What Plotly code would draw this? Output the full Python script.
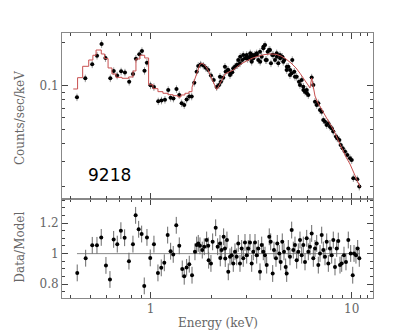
import plotly.graph_objects as go

# spectrum data points (keV, counts/sec/keV)
energy_top = [0.430, 0.473, 0.512, 0.541, 0.570, 0.596, 0.630, 0.655, 0.681, 0.713,
              0.745, 0.782, 0.817, 0.845, 0.878, 0.905, 0.932, 0.958, 0.998, 1.038,
              1.091, 1.132, 1.178, 1.223, 1.257, 1.298, 1.344, 1.388, 1.426, 1.469,
              1.510, 1.556, 1.600, 1.648, 1.694, 1.725, 1.773, 1.827, 1.878, 1.934,
              1.995, 2.058, 2.130, 2.187, 2.212, 2.238, 2.297, 2.342, 2.361, 2.416,
              2.433, 2.481, 2.500, 2.547, 2.576, 2.627, 2.678, 2.709, 2.728, 2.782,
              2.790, 2.856, 2.888, 2.946, 3.004, 3.010, 3.038, 3.119, 3.125, 3.130,
              3.181, 3.203, 3.240, 3.277, 3.285, 3.369, 3.375, 3.431, 3.499, 3.505,
              3.567, 3.633, 3.640, 3.705, 3.734, 3.777, 3.821, 3.882, 3.922, 3.967,
              4.027, 4.074, 4.154, 4.236, 4.245, 4.314, 4.399, 4.410, 4.516, 4.568,
              4.621, 4.750, 4.760, 4.838, 4.932, 4.940, 5.029, 5.064, 5.181, 5.223,
              5.325, 5.468, 5.532, 5.641, 5.745, 5.755, 5.859, 5.974, 5.985, 6.085,
              6.324, 6.442, 6.569, 6.698, 6.822, 6.956, 7.093, 7.225, 7.367, 7.512,
              7.652, 7.798, 7.953, 8.100, 8.354, 8.479, 8.676, 8.817, 9.022, 9.262,
              9.509, 9.806, 10.00, 10.19, 10.66, 10.91]
counts_top = [0.0835, 0.1131, 0.1415, 0.1624, 0.1957, 0.1565, 0.1131, 0.1271, 0.1182, 0.1264,
              0.1241, 0.1071, 0.1212, 0.1548, 0.1660, 0.1750, 0.1275, 0.1451, 0.1011, 0.0984,
              0.0783, 0.0793, 0.0803, 0.0938, 0.0829, 0.0819, 0.0953, 0.0866, 0.0759, 0.0738,
              0.0806, 0.0846, 0.0846, 0.1054, 0.1257, 0.1377, 0.1410, 0.1385, 0.1341, 0.1292,
              0.1183, 0.1101, 0.0984, 0.1016, 0.1160, 0.1071, 0.1142, 0.1361, 0.1257, 0.1292,
              0.1292, 0.1192, 0.1225, 0.1245, 0.1327, 0.1361, 0.1399, 0.1399, 0.1516, 0.1437,
              0.1598, 0.1516, 0.1642, 0.1557, 0.1642, 0.1598, 0.1540, 0.1598, 0.1557, 0.1687,
              0.1475, 0.1642, 0.1557, 0.1624, 0.1642, 0.1687, 0.1642, 0.1516, 0.1730, 0.1475,
              0.1598, 0.1827, 0.1873, 0.1926, 0.1516, 0.1516, 0.1730, 0.1778, 0.1778, 0.1437,
              0.1642, 0.1642, 0.1516, 0.1687, 0.1598, 0.1437, 0.1642, 0.1557, 0.1598, 0.1475,
              0.1516, 0.1292, 0.1361, 0.1361, 0.1192, 0.1292, 0.1225, 0.1516, 0.1257, 0.1160,
              0.1160, 0.1071, 0.1016, 0.1101, 0.0989, 0.0938, 0.0913, 0.0938, 0.0890, 0.0866,
              0.1146, 0.1016, 0.0778, 0.0738, 0.0759, 0.0681, 0.0663, 0.0580, 0.0565, 0.0536,
              0.0551, 0.0521, 0.0508, 0.0482, 0.0445, 0.0433, 0.0422, 0.0389, 0.0369, 0.0350,
              0.0332, 0.0315, 0.0306, 0.0229, 0.0225, 0.0200]

# folded model: stepped part at low energy, smooth part above ~1.6 keV
model_low_e = [0.412, 0.433, 0.459, 0.492, 0.516, 0.535, 0.568, 0.590, 0.614, 0.642,
               0.672, 0.720, 0.777, 0.817, 0.845, 0.885, 0.934, 0.977, 1.027, 1.087,
               1.151, 1.219, 1.291, 1.367, 1.415, 1.481, 1.550, 1.606]
model_low_v = [0.0953, 0.1142, 0.1370, 0.1516, 0.1634, 0.1778, 0.1668, 0.1548, 0.1334, 0.1212,
               0.1149, 0.1131, 0.1155, 0.1271, 0.1540, 0.1634, 0.1565, 0.1020, 0.0958, 0.0913,
               0.0890, 0.0870, 0.0856, 0.0839, 0.0866, 0.0890, 0.0913, 0.0980]
model_high_e = [1.606, 1.661, 1.713, 1.759, 1.800, 1.863, 1.928, 1.995, 2.065, 2.130,
                2.187, 2.263, 2.342, 2.452, 2.568, 2.688, 2.814, 2.980, 3.192, 3.419,
                3.662, 3.922, 4.202, 4.449, 4.711, 4.989, 5.284, 5.532, 5.791, 6.062,
                6.203, 6.324, 6.420, 6.569, 6.799, 7.118, 7.451, 7.798, 8.166, 8.548,
                8.948, 9.367, 9.806, 10.27, 10.75, 11.0]
model_high_v = [0.0980, 0.1118, 0.1292, 0.1415, 0.1437, 0.1392, 0.1292, 0.1160, 0.1044, 0.0943,
                0.1005, 0.1118, 0.1212, 0.1251, 0.1286, 0.1355, 0.1422, 0.1484, 0.1557, 0.1608,
                0.1650, 0.1668, 0.1660, 0.1616, 0.1540, 0.1444, 0.1334, 0.1225, 0.1118, 0.1000,
                0.0969, 0.1137, 0.1016, 0.0852, 0.0762, 0.0685, 0.0612, 0.0553, 0.0487, 0.0422,
                0.0365, 0.0321, 0.0287, 0.0249, 0.0215, 0.0199]

# residuals (data / model)
energy_ratio = [0.4313, 0.4750, 0.5123, 0.5406, 0.5678, 0.5993, 0.6274, 0.6546, 0.6823, 0.7112,
                0.7422, 0.7798, 0.8164, 0.8420, 0.8716, 0.9020, 0.9294, 0.9585, 0.9954, 1.0385,
                1.087, 1.129, 1.169, 1.215, 1.257, 1.295, 1.341, 1.388, 1.436, 1.469,
                1.510, 1.556, 1.606, 1.661, 1.694, 1.725, 1.759, 1.806, 1.848, 1.899,
                1.934, 1.943, 1.995, 2.034, 2.106, 2.154, 2.212, 2.220, 2.255, 2.307,
                2.342, 2.350, 2.396, 2.433, 2.481, 2.529, 2.576, 2.627, 2.678, 2.728,
                2.782, 2.836, 2.888, 2.946, 3.004, 3.059, 3.119, 3.181, 3.240, 3.304,
                3.369, 3.431, 3.499, 3.567, 3.633, 3.705, 3.777, 3.890, 3.954, 4.046,
                4.106, 4.202, 4.265, 4.363, 4.434, 4.516, 4.605, 4.694, 4.750, 4.838,
                4.932, 5.029, 5.123, 5.223, 5.325, 5.425, 5.532, 5.641, 5.745, 5.859,
                5.974, 6.085, 6.203, 6.324, 6.442, 6.569, 6.698, 6.822, 6.956, 7.093,
                7.225, 7.367, 7.512, 7.652, 7.798, 7.953, 8.100, 8.259, 8.422, 8.577,
                8.747, 8.918, 9.156, 9.367, 9.618, 9.886, 10.12, 10.27, 10.50, 10.71,
                10.91]
ratio = [0.874, 0.970, 1.054, 1.054, 1.106, 0.923, 0.831, 1.093, 1.062, 1.150,
         1.104, 0.951, 1.062, 1.250, 1.159, 1.128, 0.789, 1.106, 0.972, 1.062,
         0.874, 0.907, 0.940, 1.121, 1.016, 0.995, 1.185, 1.051, 0.900, 0.852,
         0.910, 0.931, 0.859, 1.012, 1.056, 1.067, 1.051, 1.023, 1.045, 1.089,
         1.051, 0.957, 0.936, 1.077, 1.169, 1.045, 1.067, 0.972, 1.023, 1.110,
         1.034, 0.968, 1.089, 0.881, 0.979, 0.990, 0.936, 1.012, 0.979, 1.067,
         0.936, 1.034, 0.969, 1.073, 0.990, 1.034, 1.073, 0.936, 1.012, 1.073,
         0.990, 1.034, 0.881, 1.056, 1.012, 0.990, 0.925, 1.110, 1.077, 0.870,
         1.023, 0.969, 1.067, 1.001, 0.946, 1.077, 1.012, 0.913, 0.870, 1.034,
         0.979, 1.154, 1.023, 1.056, 0.957, 1.012, 1.089, 0.990, 1.056, 0.946,
         1.100, 1.012, 1.045, 1.132, 0.969, 1.034, 1.067, 0.925, 1.001, 1.121,
         1.023, 0.979, 1.077, 0.936, 1.034, 0.990, 1.089, 0.913, 1.034, 1.082,
         0.925, 0.936, 0.990, 0.946, 1.089, 1.001, 0.859, 1.001, 0.990, 1.034,
         0.969]

unity_e = [0.43, 11.0]
unity_r = [1, 1]

x_minor = [0.4, 0.5, 0.6, 0.7, 0.8, 0.9, 2, 3, 4, 5, 6, 7, 8, 9, 11, 12]
y_top_minor = [0.02, 0.03, 0.04, 0.05, 0.06, 0.07, 0.08, 0.09, 0.2]
y_bot_minor = [0.75, 0.85, 0.9, 0.95, 1.05, 1.1, 1.15, 1.25, 1.3, 1.35]

FRAME = "#888888"
TEXT = "#666666"
SERIF = "DejaVu Serif"
MODEL_RED = "#c85050"

fig = go.Figure()

fig.add_trace(go.Scatter(
    x=energy_top, y=counts_top, mode="markers", xaxis="x2", yaxis="y2",
    marker=dict(color="black", size=4),
    error_y=dict(type="percent", value=6, color="#9a9a9a", thickness=1, width=0),
    error_x=dict(type="percent", value=2.5, color="#9a9a9a", thickness=1, width=0),
))
fig.add_trace(go.Scatter(
    x=model_low_e, y=model_low_v, mode="lines", xaxis="x2", yaxis="y2",
    line=dict(color=MODEL_RED, width=1, shape="hv"),
))
fig.add_trace(go.Scatter(
    x=model_high_e, y=model_high_v, mode="lines", xaxis="x2", yaxis="y2",
    line=dict(color=MODEL_RED, width=1),
))

fig.add_trace(go.Scatter(
    x=unity_e, y=unity_r, mode="lines", xaxis="x", yaxis="y",
    line=dict(color="#888888", width=1),
))
fig.add_trace(go.Scatter(
    x=energy_ratio, y=ratio, mode="markers", xaxis="x", yaxis="y",
    marker=dict(color="black", size=4),
    error_y=dict(type="constant", value=0.055, color="#6a6a6a", thickness=1, width=0),
))

axis_common = dict(
    showline=True, linecolor=FRAME, linewidth=1, mirror="ticks",
    ticks="inside", tickcolor="#444", ticklen=6, tickwidth=1,
    showgrid=False, zeroline=False,
    tickfont=dict(family=SERIF, size=12, color=TEXT),
)
minor_common = dict(tickmode="array", ticks="inside", ticklen=3, tickcolor="#444")

# the page body adds an 8px margin, so the figure is 8px smaller than the window
fig.update_layout(
    width=407, height=324,
    margin=dict(l=54, r=42, t=25, b=34),
    paper_bgcolor="white", plot_bgcolor="white",
    showlegend=False,
    xaxis=dict(
        type="log", range=[-0.441, 1.106], domain=[0, 1], anchor="y",
        tickmode="array", tickvals=[1, 10], ticktext=["1", "10"],
        minor=dict(tickvals=x_minor, **minor_common),
        **axis_common,
    ),
    xaxis2=dict(
        type="log", range=[-0.441, 1.106], domain=[0, 1], anchor="y2", matches="x",
        tickmode="array", tickvals=[1, 10], showticklabels=False,
        minor=dict(tickvals=x_minor, **minor_common),
        **axis_common,
    ),
    yaxis=dict(
        range=[0.710, 1.357], domain=[0, 0.3736], anchor="x",
        tickmode="array", tickvals=[0.8, 1, 1.2], ticktext=["0.8", "1", "1.2"],
        minor=dict(tickvals=y_bot_minor, **minor_common),
        **axis_common,
    ),
    yaxis2=dict(
        type="log", range=[-1.785, -0.632], domain=[0.3736, 1], anchor="x2",
        tickmode="array", tickvals=[0.1], ticktext=["0.1"],
        minor=dict(tickvals=y_top_minor, **minor_common),
        **axis_common,
    ),
    annotations=[
        dict(text="Counts/sec/keV", xref="paper", yref="paper", x=0, y=0.679,
             xshift=-42, textangle=-90, showarrow=False,
             xanchor="center", yanchor="middle",
             font=dict(family=SERIF, size=12, color=TEXT)),
        dict(text="Data/Model", xref="paper", yref="paper", x=0, y=0.19,
             xshift=-42, textangle=-90, showarrow=False,
             xanchor="center", yanchor="middle",
             font=dict(family=SERIF, size=12, color=TEXT)),
        dict(text="Energy (keV)", xref="paper", yref="paper", x=0.5, y=-0.094,
             showarrow=False, xanchor="center", yanchor="middle",
             font=dict(family=SERIF, size=12, color=TEXT)),
        dict(text="9218", xref="x2", yref="y2", x=-0.2025, y=-1.618,
             showarrow=False, xanchor="center", yanchor="middle",
             font=dict(family="DejaVu Sans", size=17, color="black")),
    ],
)

fig.write_html("out.html")
